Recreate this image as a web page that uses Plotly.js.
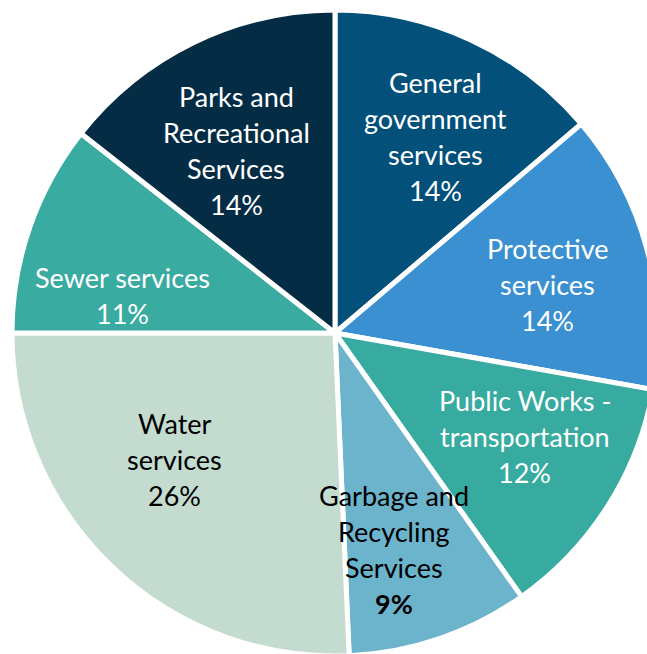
<!DOCTYPE html>
<html>
<head>
<meta charset="utf-8">
<script src="https://cdn.plot.ly/plotly-3.0.1.min.js"></script>
<style>
html,body{margin:0;padding:0;overflow:hidden;background:#fff;}
#chart{width:658px;height:656px;}
</style>
</head>
<body>
<div id="chart"></div>
<script>
// Data
const categories = ["General government services", "Protective services", "Public Works - transportation", "Garbage and Recycling Services", "Water services", "Sewer services", "Parks and Recreational Services"];
const values = [13.8, 14.0, 12.4, 9.1, 25.7, 10.6, 14.4];
const labelLines = [
  ["General", "government", "services"],
  ["Protective", "services"],
  ["Public Works -", "transportation"],
  ["Garbage and", "Recycling", "Services"],
  ["Water", "services"],
  ["Sewer services"],
  ["Parks and", "Recreational", "Services"]
];

// Styles
const colors = ["#03507a", "#3a90d0", "#37aba0", "#6cb3cc", "#c3dccf", "#39aba0", "#042d45"];
const textColors = ["#ffffff", "#ffffff", "#ffffff", "#000000", "#000000", "#ffffff", "#ffffff"];
const boldPct = [false, false, false, true, false, false, false];
// label placement: radius fraction and angle nudge (deg) relative to slice middle
const labelR = [0.684, 0.676, 0.669, 0.696, 0.632, 0.667, 0.644];
const labelDAng = [2.1, 2.4, -3.9, 3.7, 7.9, -9.1, -2.5];

const W = 658, H = 656;
const margin = {l: 12, r: 0, t: 10, b: 0};
const plotW = W - margin.l - margin.r, plotH = H - margin.t - margin.b;
const R = Math.min(plotW, plotH) / 2;
const LINE = 36;
const FONT = "Lato, 'Open Sans', sans-serif";
const FS = 27;

const total = values.reduce((a, b) => a + b, 0);
const annotations = [];
let cum = 0;
values.forEach((v, i) => {
  const pct = Math.round(v / total * 100) + "%";
  const mid = (cum + v / 2) / total * 360 + labelDAng[i];
  cum += v;
  const a = mid * Math.PI / 180;
  const r = labelR[i] * R;
  const xp = 0.5 + r * Math.sin(a) / plotW;
  const yp = 0.5 + r * Math.cos(a) / plotH;
  const lines = labelLines[i].concat([boldPct[i] ? "<b>" + pct + "</b>" : pct]);
  const n = lines.length;
  lines.forEach((t, k) => {
    annotations.push({
      xref: "paper", yref: "paper", x: xp, y: yp,
      xanchor: "center", yanchor: "middle",
      yshift: ((n - 1) / 2 - k) * LINE,
      text: t, showarrow: false,
      font: {family: FONT, size: FS, color: textColors[i]}
    });
  });
});

const data = [{
  type: "pie",
  labels: categories,
  values: values,
  sort: false,
  direction: "clockwise",
  rotation: 0,
  textinfo: "none",
  hoverinfo: "label+percent",
  marker: {colors: colors, line: {color: "#ffffff", width: 5}},
  showlegend: false
}];

const layout = {
  width: W, height: H,
  margin: margin,
  paper_bgcolor: "#ffffff",
  showlegend: false,
  annotations: annotations
};

Plotly.newPlot("chart", data, layout, {displayModeBar: false, staticPlot: true});
</script>
</body>
</html>
